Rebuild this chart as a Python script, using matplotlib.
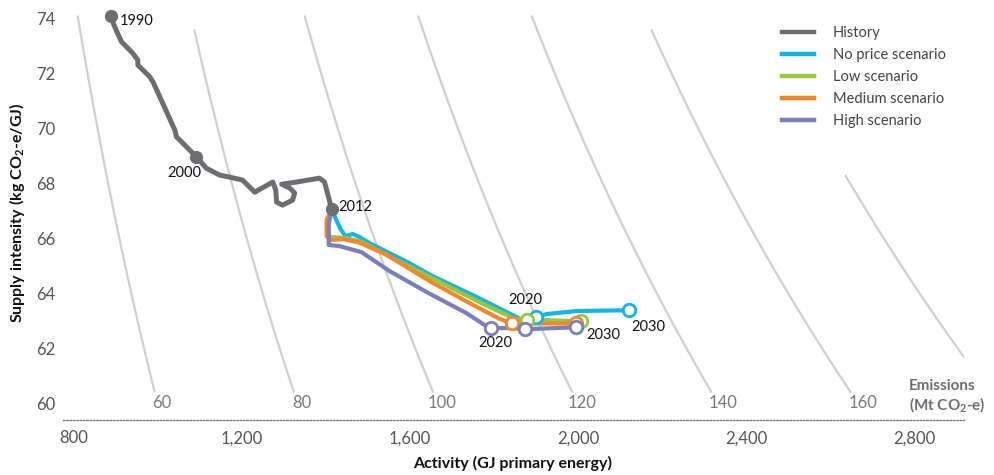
import numpy as np
import matplotlib.pyplot as plt
from matplotlib.lines import Line2D
from matplotlib.ticker import FixedLocator, FuncFormatter

plt.rcParams['font.family'] = ['Lato', 'DejaVu Sans']
plt.rcParams['mathtext.fontset'] = 'custom'
plt.rcParams['mathtext.rm'] = 'Lato'
plt.rcParams['mathtext.bf'] = 'Lato:bold'
plt.rcParams['mathtext.it'] = 'Lato:italic'

# Emission contours (Mt CO2-e): intensity = emissions * 1000 / activity
iso_levels = [60, 80, 100, 120, 140, 160, 180]
iso_labelled = [60, 80, 100, 120, 140, 160]
iso_top = [74.1, 73.6, 74.1, 74.1, 74.1, 73.6, 68.3]
iso_bottom = 60.4

# Historical path 1990-2012
history_activity = [888, 898, 914, 941, 953, 953, 981, 989, 1041, 1045, 1092,
                    1116, 1148, 1171, 1202, 1231, 1274, 1281, 1283, 1297, 1321,
                    1326, 1314, 1295, 1331, 1385, 1397, 1404, 1414]
history_intensity = [74.08, 73.69, 73.15, 72.73, 72.48, 72.30, 71.88, 71.69,
                     69.94, 69.69, 68.97, 68.55, 68.30, 68.23, 68.12, 67.68,
                     68.05, 67.76, 67.32, 67.21, 67.39, 67.65, 67.83, 67.97,
                     68.05, 68.19, 68.05, 67.65, 67.07]
history_points = {0: '1990', 10: '2000', 28: '2012'}

# Scenario paths 2012-2030
noprice_activity = [1414, 1421, 1435, 1447, 1464, 1480, 1504, 1599, 1654, 1759,
                    1854, 1866, 1901, 1925, 1996, 2122]
noprice_intensity = [67.07, 66.81, 66.34, 66.08, 66.16, 66.05, 65.83, 65.10,
                     64.63, 63.87, 63.14, 63.03, 63.14, 63.25, 63.36, 63.39]
noprice_markers = [12, 15]

low_activity = [1414, 1404, 1409, 1445, 1485, 1576, 1671, 1766, 1849, 1878,
                1920, 2008]
low_intensity = [67.07, 66.56, 66.05, 66.02, 65.88, 65.15, 64.42, 63.68, 63.08,
                 63.03, 63.03, 62.99]
low_markers = [9, 11]

medium_activity = [1414, 1402, 1402, 1412, 1440, 1480, 1545, 1647, 1742, 1813,
                   1842, 1892, 1996]
medium_intensity = [67.07, 66.67, 66.08, 65.94, 65.98, 65.85, 65.40, 64.45,
                    63.65, 63.08, 62.91, 62.91, 62.91]
medium_markers = [10, 12]

high_activity = [1414, 1407, 1407, 1433, 1485, 1552, 1640, 1735, 1782, 1794,
                 1844, 1873, 1996]
high_intensity = [67.07, 66.52, 65.76, 65.72, 65.50, 64.81, 64.05, 63.28, 62.81,
                  62.74, 62.74, 62.70, 62.77]
high_markers = [9, 11, 12]

x_ticks = [800, 1200, 1600, 2000, 2400, 2800]
y_ticks = [60, 62, 64, 66, 68, 70, 72, 74]

history_color = '#6d6e71'
scenarios = [
    ('No price scenario', noprice_activity, noprice_intensity, noprice_markers, '#12b5e5'),
    ('Low scenario', low_activity, low_intensity, low_markers, '#95c83d'),
    ('Medium scenario', medium_activity, medium_intensity, medium_markers, '#f5862a'),
    ('High scenario', high_activity, high_intensity, high_markers, '#7b7fbc'),
]

fig = plt.figure(figsize=(9.94, 4.75), dpi=100)
ax = fig.add_axes([63 / 994, 55 / 475, 901 / 994, 412.7 / 475])
ax.set_xlim(775, 2918)
ax.set_ylim(59.4, 74.4)

# Iso-emission curves
for level, top in zip(iso_levels, iso_top):
    inten = np.linspace(iso_bottom, top, 200)
    ax.plot(level * 1000 / inten, inten, color='#d0d0d0', lw=1.6,
            solid_capstyle='butt', zorder=1)
for level in iso_labelled:
    ax.annotate(str(level), (level * 1000 / 60, 60), xytext=(3.2, 0),
                textcoords='offset points', ha='center', va='center',
                fontsize=12, color='#7a7a7a', zorder=2)

# Scenario paths
for name, act, inten, marks, col in scenarios:
    ax.plot(act, inten, color=col, lw=3.0, solid_joinstyle='round',
            solid_capstyle='round', zorder=3)
for name, act, inten, marks, col in scenarios:
    ax.plot([act[i] for i in marks], [inten[i] for i in marks], 'o', ms=9,
            mfc='white', mec=col, mew=2.0, zorder=4, linestyle='none')

# History path
ax.plot(history_activity, history_intensity, color=history_color, lw=3.6,
        solid_joinstyle='round', solid_capstyle='round', zorder=5)
hist_idx = list(history_points)
ax.plot([history_activity[i] for i in hist_idx],
        [history_intensity[i] for i in hist_idx], 'o', ms=8.5,
        color=history_color, zorder=6)

label_kw = dict(textcoords='offset points', fontsize=10.5, color='#111111',
                va='center', zorder=7)
ax.annotate('1990', (history_activity[0], history_intensity[0]),
            xytext=(7, -3.5), ha='left', **label_kw)
ax.annotate('2000', (history_activity[10], history_intensity[10]),
            xytext=(-8.5, -11.5), ha='center', **label_kw)
ax.annotate('2012', (history_activity[28], history_intensity[28]),
            xytext=(5, 1.5), ha='left', **label_kw)
ax.annotate('2020', (low_activity[9], low_intensity[9]),
            xytext=(-1, 14.5), ha='center', **label_kw)
ax.annotate('2020', (high_activity[9], high_intensity[9]),
            xytext=(2.5, -11), ha='center', **label_kw)
ax.annotate('2030', (low_activity[11], low_intensity[11]),
            xytext=(3.5, -10), ha='left', **label_kw)
ax.annotate('2030', (noprice_activity[15], noprice_intensity[15]),
            xytext=(1.5, -12), ha='left', **label_kw)

# Axes styling
for side in ('top', 'right', 'left'):
    ax.spines[side].set_visible(False)
ax.spines['bottom'].set_linestyle((0, (1, 1.4)))
ax.spines['bottom'].set_color('#777777')
ax.spines['bottom'].set_linewidth(1.0)
ax.xaxis.set_major_locator(FixedLocator(x_ticks))
ax.yaxis.set_major_locator(FixedLocator(y_ticks))
ax.xaxis.set_major_formatter(FuncFormatter(lambda v, p: f'{int(v):,}'))
ax.tick_params(axis='both', length=0, labelsize=12, labelcolor='#555555')
ax.tick_params(axis='x', pad=7.5)
ax.tick_params(axis='y', pad=5.8)

fig.text(17 / 994, 1 - 213 / 475, r'Supply intensity (kg CO$_\mathbf{2}$-e/GJ)',
         rotation=90, ha='center', va='center', fontsize=11.5, fontweight='bold',
         color='#111111')
fig.text(513 / 994, 1 - 463 / 475, 'Activity (GJ primary energy)',
         ha='center', va='center', fontsize=11.5, fontweight='bold', color='#111111')
fig.text(909 / 994, 1 - 386 / 475, 'Emissions', ha='left', va='center',
         fontsize=11, fontweight='bold', color='#6d6e71')
fig.text(909 / 994, 1 - 405 / 475, r'(Mt CO$_\mathbf{2}$-e)', ha='left',
         va='center', fontsize=11, fontweight='bold', color='#6d6e71')

# Legend
handles = [Line2D([], [], color=history_color, lw=3.2)]
labels = ['History']
for name, act, inten, marks, col in scenarios:
    handles.append(Line2D([], [], color=col, lw=3.2))
    labels.append(name)
leg = fig.legend(handles, labels, loc='upper left',
                 bbox_to_anchor=(782 / 994, 1 - 26 / 475), frameon=False,
                 fontsize=10.5, handlelength=2.2, handletextpad=1.3,
                 labelspacing=0.55, borderpad=0, borderaxespad=0)
for t in leg.get_texts():
    t.set_color('#444444')

fig.savefig('out.png', dpi=100)
